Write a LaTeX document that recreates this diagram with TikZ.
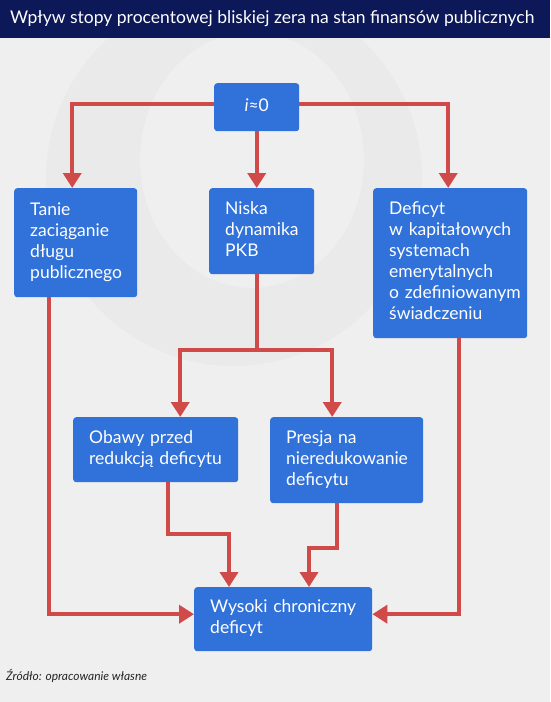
\documentclass[tikz,border=0pt]{standalone}
\usepackage{fontspec}
\setmainfont{Lato}
\usetikzlibrary{arrows.meta, positioning, calc}

\definecolor{bgcol}{HTML}{EFEFEF}
\definecolor{ringcol}{HTML}{EAEAEA}
\definecolor{barcol}{HTML}{0C1857}
\definecolor{boxcol}{HTML}{3072D9}
\definecolor{linkcol}{HTML}{D04A4A}

\begin{document}
\begin{tikzpicture}[
  x=1pt, y=-1pt,
  box/.style={fill=boxcol, rounded corners=3pt, text=white,
              font=\fontsize{17.5}{21}\selectfont,
              align=left, anchor=north west, inner xsep=16pt, inner ysep=0pt,
              execute at begin node={\hyphenpenalty=10000\relax\strut},
              execute at end node=\strut},
  link/.style={draw=linkcol, line width=4pt},
  arrow/.style={link, -{Triangle[width=18pt, length=15pt]}},
]
  % page, title bar and faint watermark
  \useasboundingbox (0,0) rectangle (550,702);
  \fill[bgcol] (0,0) rectangle (550,702);
  \fill[ringcol, even odd rule] (234,178) circle (188)
      (252,160) ellipse (112 and 128);
  \fill[barcol] (0,0) rectangle (550,38);
  \node[anchor=west, text=white, font=\fontsize{17.5}{21}\selectfont,
        inner sep=0pt] (title) at (10,19)
    {Wpływ stopy procentowej bliskiej zera na stan finansów publicznych};

  % boxes
  \node[box, align=center, text width=53pt, minimum height=48pt] (rate) at (214,83) {\textit{i}≈0};
  \node[box, text width=91pt, minimum height=109pt] (cheap) at (14,188)
    {Tanie\\zaciąganie\\długu\\publicznego};
  \node[box, text width=73pt, minimum height=86pt] (gdp) at (209,188)
    {Niska\\dynamika\\PKB};
  \node[box, text width=122pt, minimum height=150pt] (pension) at (373,188)
    {Deficyt\\w~kapitałowych\\systemach\\emerytalnych\\o~zdefiniowanym\\świadczeniu};
  \node[box, text width=133pt, minimum height=65pt] (fear) at (73,417)
    {Obawy przed\\redukcją deficytu};
  \node[box, text width=121pt, minimum height=86pt] (press) at (270,417)
    {Presja na\\nieredukowanie\\deficytu};
  \node[box, text width=146pt, minimum height=64pt] (chronic) at (194,587)
    {Wysoki chroniczny\\deficyt};

  % connectors
  \coordinate (split) at (257,350);
  \coordinate (fearbend) at (229,534);
  \coordinate (pressbend) at (309,548);

  \draw[arrow] ([yshift=3pt]rate.west) -| ([xshift=-3.5pt]cheap.north);
  \draw[arrow] ([yshift=3pt]rate.east) -| ([xshift=-2pt]pension.north);
  \draw[arrow] (rate.south) -- (rate.south |- gdp.north);

  \draw[link] (split |- gdp.south) -- (split);
  \draw[arrow] ([xshift=2pt]split) -| ([xshift=24.5pt]fear.north);
  \draw[arrow] ([xshift=-2pt]split) -| ([xshift=-14.5pt]press.north);

  \draw[arrow] ([xshift=-26.5pt]cheap.south) |- ([yshift=5pt]chronic.west);
  \draw[arrow] ([xshift=8.5pt]pension.south) |- ([yshift=5pt]chronic.east);
  \draw[arrow] ([xshift=12.5pt]fear.south) |- (fearbend) -- (fearbend |- chronic.north);
  \draw[arrow] ([xshift=-9.5pt]press.south) |- (pressbend) -- (pressbend |- chronic.north);

  % source line
  \node[anchor=base west, inner sep=0pt, font=\fontsize{12}{14}\selectfont\itshape,
        text=black!85] (source) at (6,680) {Źródło: opracowanie własne};
\end{tikzpicture}
\end{document}
